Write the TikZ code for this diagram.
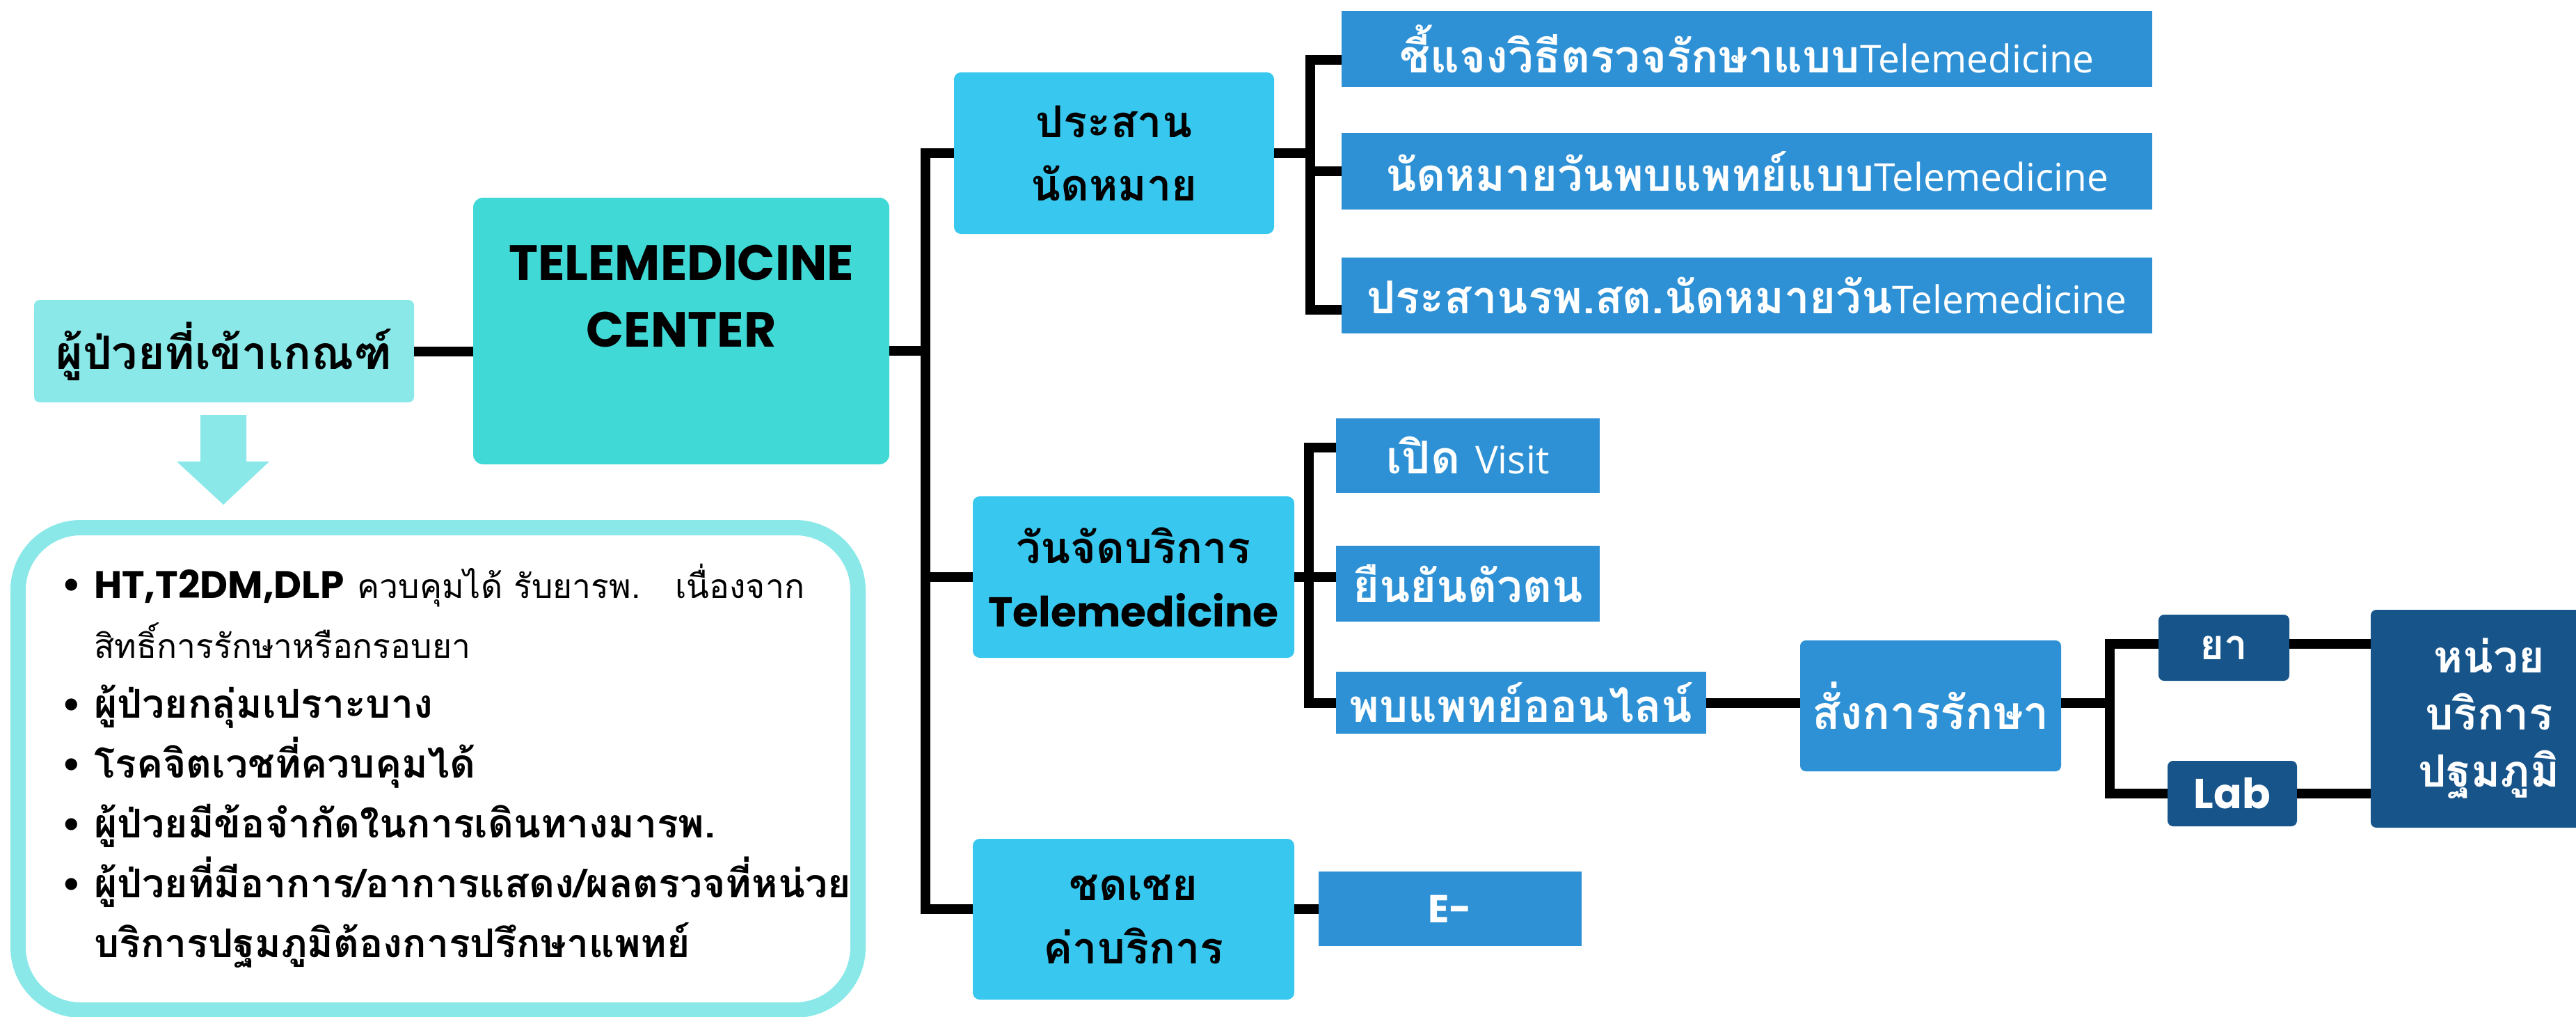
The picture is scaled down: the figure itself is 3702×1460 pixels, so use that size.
\documentclass[tikz,border=0pt]{standalone}
\usepackage{fontspec}
\setmainfont{Poppins}
\newfontfamily\thaifont[Script=Thai]{Loma}
\newfontfamily\opensans{Open Sans}
\definecolor{paleaqua}{HTML}{8AE8E8}
\definecolor{turq}{HTML}{40D9D6}
\definecolor{sky}{HTML}{38C8EF}
\definecolor{midblue}{HTML}{2E91D5}
\definecolor{navy}{HTML}{17548A}
\newcommand{\itm}{\makebox[47pt][l]{\rmfamily\textbullet}}
\newcommand{\plainlatin}[1]{{\opensans\mdseries\fontsize{55}{70}\selectfont #1}}
\newcommand{\plainthai}[1]{{\mdseries\fontsize{48}{86}\selectfont #1}}

\begin{document}
\begin{tikzpicture}[x=1pt,y=-1pt,
    link/.style={draw=black,line width=14pt},
    tag/.style={inner sep=0pt,align=center},
    lightbox/.style={tag,fill=paleaqua,rounded corners=8pt},
    hubbox/.style={tag,fill=turq,rounded corners=14pt},
    stagebox/.style={tag,fill=sky,rounded corners=10pt,minimum width=462pt,minimum height=232pt,
        font=\thaifont\bfseries\fontsize{63}{91}\selectfont},
    taskbox/.style={tag,fill=midblue,text=white,font=\thaifont\bfseries\fontsize{65}{70}\selectfont},
    unitbox/.style={tag,fill=navy,text=white,rounded corners=8pt,
        font=\thaifont\bfseries\fontsize{64}{82}\selectfont}]
    \clip (0,0) rectangle (3702,1460);
    \fill[white] (0,0) rectangle (3702,1460);

    % Text Node
    \node[lightbox,minimum width=546pt,minimum height=147pt,
        font=\thaifont\bfseries\fontsize{66}{70}\selectfont] (patient) at (322,504.5) {ผู้ป่วยที่เข้าเกณฑ์};
    % Shape: hub
    \node[hubbox,minimum width=598pt,minimum height=383pt] (hub) at (979,475.5) {};
    \node[tag,font=\bfseries\fontsize{71}{96}\selectfont] (hubtext) at (979,425) {TELEMEDICINE\\CENTER};
    % Shape: down arrow
    \fill[paleaqua] (288,596) -- (354,596) -- (354,663) -- (387,663) -- (321,725) -- (254,663) -- (288,663) -- cycle;
    % Shape: criteria frame
    \node[draw=paleaqua,line width=22pt,rounded corners=90pt,inner sep=0pt,
        minimum width=1207pt,minimum height=693pt] (frame) at (629.5,1104.5) {};
    % Text Node
    \node[anchor=north west,inner sep=0pt,align=left,
        font=\thaifont\bfseries\fontsize{57}{86}\selectfont] (criteria) at (88,810) {%
        \itm{\rmfamily\fontsize{55}{86}\selectfont HT,T2DM,DLP} \plainthai{ควบคุมได้ รับยารพ.}\hspace{50pt}\plainthai{เนื่องจาก}\\
        \hspace*{47pt}\plainthai{สิทธิ์การรักษาหรือกรอบยา}\\
        \itm ผู้ป่วยกลุ่มเปราะบาง\\
        \itm โรคจิตเวชที่ควบคุมได้\\
        \itm ผู้ป่วยมีข้อจำกัดในการเดินทางมารพ.\\
        \itm ผู้ป่วยที่มีอาการ/อาการแสดง/ผลตรวจที่หน่วย\\
        \hspace*{47pt}บริการปฐมภูมิต้องการปรึกษาแพทย์};

    % Text Node
    \node[stagebox,minimum width=460pt] (coord) at (1601,220) {ประสาน\\นัดหมาย};
    \node[stagebox] (svc) at (1629,829) {วันจัดบริการ\\{\rmfamily\fontsize{60}{91}\selectfont Telemedicine}};
    \node[stagebox,minimum height=231pt] (fee) at (1629,1320.5) {ชดเชย\\ค่าบริการ};

    \node[taskbox,minimum width=1165pt,minimum height=109pt] (explain) at (2510.5,70.5) {ชี้แจงวิธีตรวจรักษาแบบ\plainlatin{Telemedicine}};
    \node[taskbox,minimum width=1165pt,minimum height=110pt] (book) at (2510.5,246) {นัดหมายวันพบแพทย์แบบ\plainlatin{Telemedicine}};
    \node[taskbox,minimum width=1165pt,minimum height=109pt] (liaise) at (2510.5,424.5) {ประสานรพ.สต.นัดหมายวัน\plainlatin{Telemedicine}};
    \node[taskbox,minimum width=379pt,minimum height=107pt] (visit) at (2109.5,654.5) {เปิด \plainlatin{Visit}};
    \node[taskbox,minimum width=379pt,minimum height=109pt] (verify) at (2109.5,838.5) {ยืนยันตัวตน};
    \node[taskbox,minimum width=532pt,minimum height=89pt] (online) at (2186,1009.5) {พบแพทย์ออนไลน์};
    \node[taskbox,minimum width=378pt,minimum height=107pt,font=\bfseries\fontsize{56}{60}\selectfont] (claim) at (2084,1305.5) {E-};
    \node[taskbox,rounded corners=8pt,minimum width=375pt,minimum height=188pt,
        font=\thaifont\bfseries\fontsize{66}{70}\selectfont] (order) at (2774.5,1014) {สั่งการรักษา};

    \node[unitbox,minimum width=188pt,minimum height=95pt,font=\thaifont\bfseries\fontsize{60}{70}\selectfont] (drug) at (3196,930.5) {ยา};
    \node[unitbox,minimum width=186pt,minimum height=94pt,font=\bfseries\fontsize{60}{70}\selectfont] (lab) at (3208,1140) {Lab};
    \node[unitbox,minimum width=340pt,minimum height=313pt] (unit) at (3577,1032.5) {หน่วย\\บริการ\\ปฐมภูมิ};

    \coordinate (trunk) at (1330,504);
    \coordinate (fork1) at (1883,220);
    \coordinate (fork2) at (1881,829);
    \coordinate (fork3) at (3032,1009.5);

    % Straight Lines
    \draw[link] (patient.east) -- (patient.east -| hub.west);
    \draw[link] (hub.east |- trunk) -- (trunk);
    \draw[link] (coord.west) -| (trunk) |- (fee.west |- claim.west);
    \draw[link] (trunk |- svc.west) -- (svc.west);
    \draw[link] (fee.east |- claim.west) -- (claim.west);

    \draw[link] (coord.east) -- (fork1);
    \draw[link] ([yshift=-15.5pt]explain.west) -| (fork1) |- ([yshift=-20.5pt]liaise.west);
    \draw[link] (fork1 |- book.west) -- (book.west);

    \draw[link] (svc.east) -- (verify.west |- svc.east);
    \draw[link] ([yshift=11.5pt]visit.west) -| (fork2) |- (online.west);

    \draw[link] (online.east) -- (online.east -| order.west);
    \draw[link] (online.east -| order.east) -- (fork3);
    \draw[link] ([yshift=5.5pt]drug.west) -| (fork3) |- (lab.west);
    \draw[link] ([yshift=5.5pt]drug.east) -- ([yshift=5.5pt]drug.east -| unit.west);
    \draw[link] (lab.east) -- (lab.east -| unit.west);
\end{tikzpicture}
\end{document}
